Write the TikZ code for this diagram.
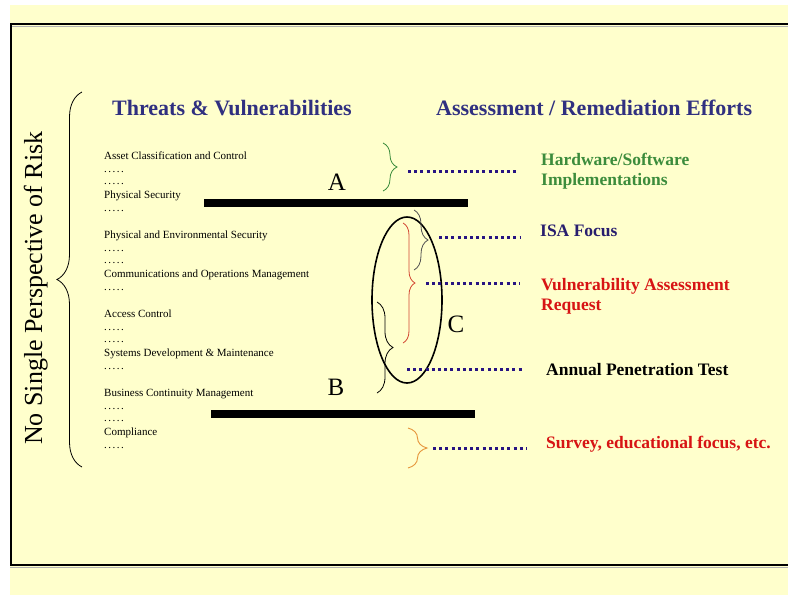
\documentclass[tikz,border=0pt]{standalone}
\usepackage{fontspec}
\setmainfont{Liberation Serif}
\usetikzlibrary{decorations.pathreplacing}
\definecolor{bgyellow}{RGB}{255,255,204}
\definecolor{navy}{RGB}{48,48,128}
\definecolor{isanavy}{RGB}{40,30,110}
\definecolor{dotblue}{RGB}{40,20,130}
\definecolor{hwgreen}{RGB}{60,140,60}
\definecolor{vred}{RGB}{215,20,20}
\definecolor{bracered}{RGB}{210,70,50}
\definecolor{braceorange}{RGB}{230,150,60}
\definecolor{bracegray}{RGB}{80,80,80}
\newcommand\dotrow{.\kern1.5pt.\kern1.5pt.\kern1.5pt.\kern1.5pt.}
\begin{document}
\begin{tikzpicture}[x=1pt,y=1pt,
  item/.style={anchor=base west,inner sep=0pt,font=\fontsize{11}{13}\selectfont},
  head/.style={anchor=base west,inner sep=0pt,text=navy,font=\fontsize{22}{26}\selectfont\bfseries},
  lab/.style={anchor=base west,inner sep=0pt,align=left,font=\fontsize{17.5}{20.5}\selectfont\bfseries},
  letter/.style={anchor=base,inner sep=0pt,font=\fontsize{25}{30}\selectfont},
  dotline/.style={draw=dotblue,line width=3pt,dash pattern=on 3pt off 3.2pt},
  bracedeco/.style={decorate,decoration={brace,amplitude=#1}},
  frameline/.style={line width=2pt,draw=black}]
\useasboundingbox (0,0) rectangle (788,-595);
\fill[white] (0,0) rectangle (788,-595);
\fill[bgyellow] (10,-5) rectangle (788,-595);
% frame
\draw[gray!60,line width=1pt] (12,-26.5) -- (788,-26.5);
\draw[gray!60,line width=1pt] (10,-567.5) -- (788,-567.5);
\draw[frameline] (10,-24) -- (788,-24);
\draw[frameline] (11,-24) -- (11,-565);
\draw[frameline] (10,-565) -- (788,-565);

% vertical title and big brace
\node[anchor=base west,inner sep=0pt,rotate=90,font=\fontsize{26}{30}\selectfont] (vt) at (42,-445) {No Single Perspective of Risk};
\draw[bracedeco=25pt,line width=0.8pt] (82,-467) -- (82,-92);

% headers
\node[head] (h1) at (112,-115) {Threats \& Vulnerabilities};
\node[head] (h2) at (436,-115) {Assessment / Remediation Efforts};

% left items
\foreach \b/\ta/\tb [count=\i] in {159/Asset Classification and Control/Physical Security,
  238.3/Physical and Environmental Security/Communications and Operations Management,
  317.6/Access Control/Systems Development \& Maintenance,
  396.9/Business Continuity Management/Compliance}{
  \node[item] (it\i a) at (104,-\b) {\ta};
  \node[item] (it\i b) at (104,-\b-13) {\dotrow};
  \node[item] (it\i c) at (104,-\b-25) {\dotrow};
  \node[item] (it\i d) at (104,-\b-39) {\tb};
  \node[item] (it\i e) at (104,-\b-52) {\dotrow};
}

% bars
\fill[black] (204,-199) rectangle (468,-207);
\fill[black] (211,-410) rectangle (475,-418);
\node[letter] (A) at (337,-190) {A};
\node[letter] (B) at (336,-395) {B};
\node[letter] (C) at (456,-332) {C};

% ellipse
\draw[line width=1.6pt] (407,-300) ellipse [x radius=35, y radius=83];

% braces
\draw[bracedeco=14pt,draw=hwgreen,line width=0.8pt] (383,-143) -- (383,-191);
\draw[bracedeco=14pt,draw=bracegray,line width=0.8pt] (414,-210) -- (414,-270);
\draw[bracedeco=12pt,draw=bracered,line width=0.8pt] (403,-223) -- (403,-343);
\draw[bracedeco=16pt,draw=black,line width=0.8pt] (377,-302) -- (377,-393);
\draw[bracedeco=19pt,draw=braceorange,line width=0.9pt] (408,-428) -- (408,-468);

% dotted connectors
\coordinate (d1s) at (408,-171); \coordinate (d1e) at (517,-171);
\coordinate (d2s) at (439,-237); \coordinate (d2e) at (520,-237);
\coordinate (d3s) at (426,-283); \coordinate (d3e) at (520,-283);
\coordinate (d4s) at (407,-369); \coordinate (d4e) at (523,-369);
\coordinate (d5s) at (433,-448); \coordinate (d5e) at (527,-448);
\draw[dotline] (d1s) -- (d1e);
\draw[dotline] (d2s) -- (d2e);
\draw[dotline] (d3s) -- (d3e);
\draw[dotline] (d4s) -- (d4e);
\draw[dotline] (d5s) -- (d5e);

% right labels (anchor base = baseline of last line)
\node[lab,text=hwgreen] (hw) at (541,-185.5) {Hardware/Software\\Implementations};
\node[lab,text=isanavy] (isa) at (540,-236) {ISA Focus};
\node[lab,text=vred] (va) at (541,-310.5) {Vulnerability Assessment\\Request};
\node[lab,text=black] (apt) at (546,-375) {Annual Penetration Test};
\node[lab,text=vred] (sv) at (546,-448) {Survey, educational focus, etc.};
\end{tikzpicture}
\end{document}
